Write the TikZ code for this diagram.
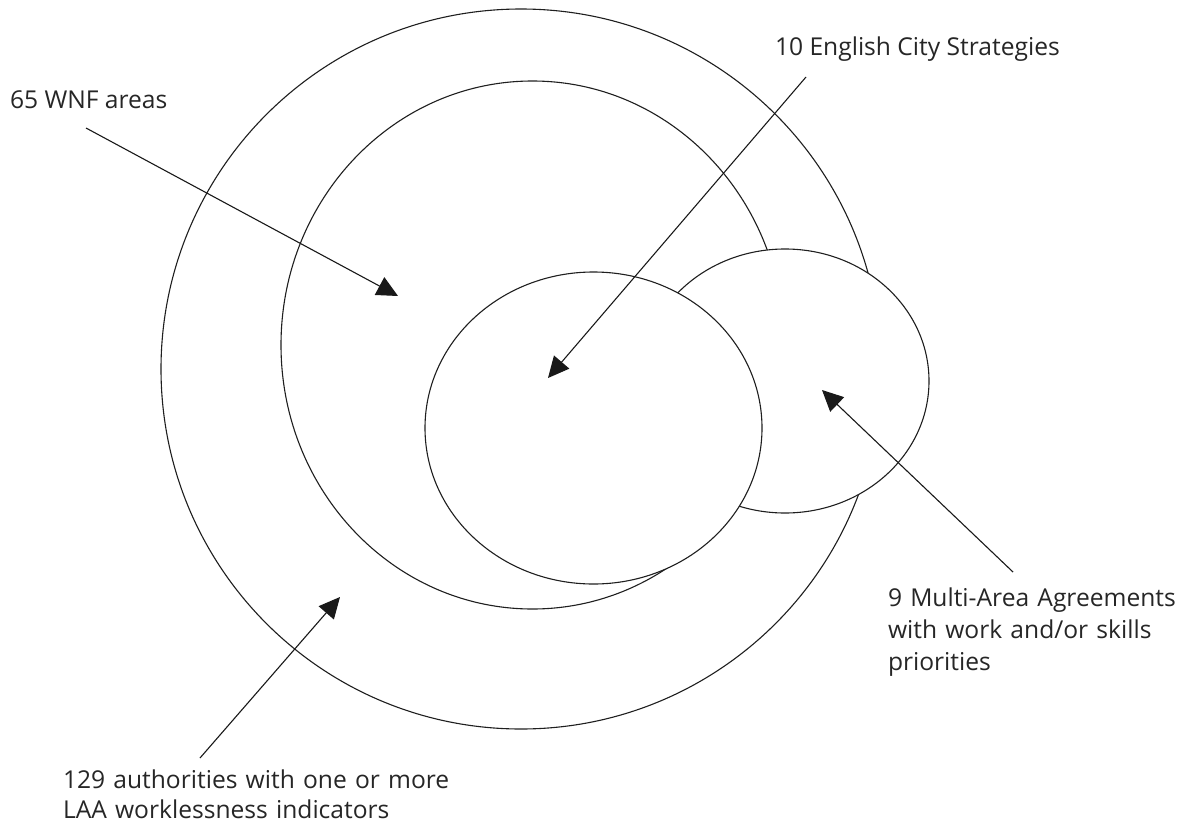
\documentclass[tikz,border=0pt]{standalone}
\usepackage{fontspec}
\setmainfont{Open Sans}
\usetikzlibrary{arrows.meta,shapes.geometric}
\begin{document}
\begin{tikzpicture}[x=1pt,y=-1pt,
  ring/.style={ellipse, draw=black!88, line width=1.1pt, fill=white, inner sep=0pt, outer sep=0pt},
  lbl/.style={anchor=base west, inner sep=0pt, outer sep=0pt, text=black!85, align=left},
  pointer/.style={draw=black!90, line width=1.1pt, -{Triangle[length=21pt,width=20pt]}}]
\useasboundingbox (0,0) rectangle (1189,825);
% circles / ellipses
\node[ring, minimum width=720pt, minimum height=720pt] (outer) at (521,369) {};
\node[ring, minimum width=503pt, minimum height=528pt] (wnfarea) at (532.5,345) {};
\node[ring, minimum width=288pt, minimum height=264pt] (maaarea) at (785,381) {};
\node[ring, minimum width=337pt, minimum height=312pt] (ecsarea) at (593.5,428) {};
% labels
\node[lbl, font=\fontsize{24.6}{32}\selectfont] (wnf) at (10,108) {65 WNF areas};
\node[lbl, font=\fontsize{24.6}{32}\selectfont] (ecs) at (775,55) {10 English City Strategies};
\node[lbl, text width=300pt, font=\fontsize{24.6}{32}\selectfont] (maa) at (888,606) {9 Multi-Area Agreements\\with work and/or skills\\priorities};
\node[lbl, text width=420pt, font=\fontsize{24.6}{30}\selectfont] (laa) at (63,788) {129 authorities with one or more\\LAA worklessness indicators};
% arrow ends
\coordinate (wnfS) at (86,128);  \coordinate (wnfT) at (398,296);
\coordinate (ecsS) at (806,77);  \coordinate (ecsT) at (548,378);
\coordinate (maaS) at (1013,572); \coordinate (maaT) at (822,390);
\coordinate (laaS) at (200,758); \coordinate (laaT) at (340,597);
\draw[pointer] (wnfS) -- (wnfT);
\draw[pointer] (ecsS) -- (ecsT);
\draw[pointer] (maaS) -- (maaT);
\draw[pointer] (laaS) -- (laaT);
\end{tikzpicture}
\end{document}
